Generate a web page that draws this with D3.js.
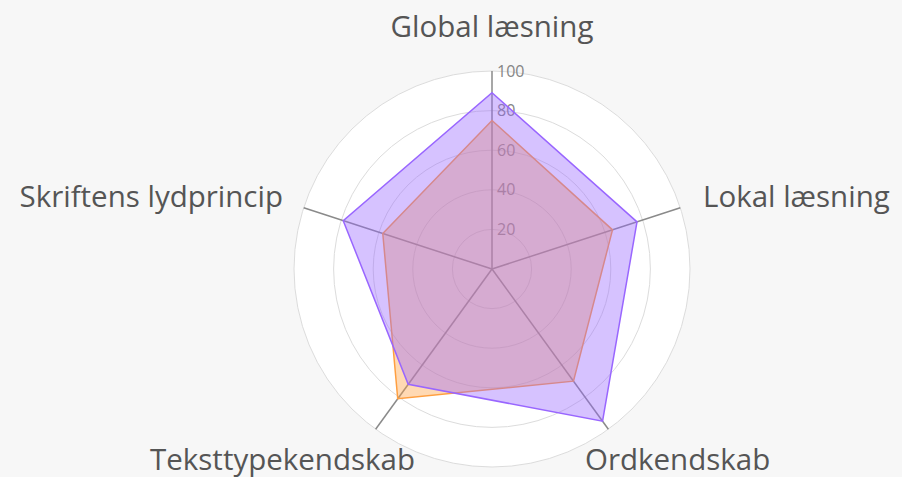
<!DOCTYPE html>
<html>
<head>
<meta charset="utf-8">
<script src="https://cdn.jsdelivr.net/npm/d3@7"></script>
<style>
  body { margin: 0; background: #f7f7f7; }
  text { font-family: "Open Sans", sans-serif; }
</style>
</head>
<body>
<script>
var width = 902;
var height = 477;

// data
var axes = ["Global læsning", "Lokal læsning", "Ordkendskab", "Teksttypekendskab", "Skriftens lydprincip"];
var seriesOrange = [75, 64, 70, 81, 58];
var seriesPurple = [89, 77, 95, 72, 79];
var ticks = [20, 40, 60, 80, 100];

var cx = 492, cy = 269, R = 198;

var svg = d3.select("body").append("svg")
  .attr("width", width)
  .attr("height", height);

var r = d3.scaleLinear().domain([0, 100]).range([0, R]);
var angle = d3.scaleLinear().domain([0, axes.length]).range([0, 2 * Math.PI]);

var g = svg.append("g").attr("transform", "translate(" + cx + "," + cy + ")");

// white plot disc
g.append("circle").attr("r", R).attr("fill", "#fff");

// rings
g.selectAll(".ring")
  .data(ticks)
  .enter().append("circle")
  .attr("class", "ring")
  .attr("r", function (d) { return r(d); })
  .attr("fill", "none")
  .attr("stroke", "#dcdcdc")
  .attr("stroke-width", 1);

// spokes
g.selectAll(".spoke")
  .data(axes)
  .enter().append("line")
  .attr("class", "spoke")
  .attr("x1", 0).attr("y1", 0)
  .attr("x2", function (d, i) { return Math.sin(angle(i)) * R; })
  .attr("y2", function (d, i) { return -Math.cos(angle(i)) * R; })
  .attr("stroke", "#8a8a8a")
  .attr("stroke-width", 1.5);

// tick labels
g.selectAll(".tick")
  .data(ticks)
  .enter().append("text")
  .attr("class", "tick")
  .attr("x", 5)
  .attr("y", function (d) { return -r(d); })
  .attr("dy", "0.35em")
  .attr("fill", "#858585")
  .style("font-size", "16px")
  .text(function (d) { return d; });

var line = d3.lineRadial()
  .angle(function (d, i) { return angle(i); })
  .radius(function (d) { return r(d); })
  .curve(d3.curveLinearClosed);

// orange under, purple on top
g.append("path")
  .attr("d", line(seriesOrange))
  .attr("fill", "rgba(255,159,64,0.4)")
  .attr("stroke", "rgb(255,159,64)")
  .attr("stroke-width", 1.5);

g.append("path")
  .attr("d", line(seriesPurple))
  .attr("fill", "rgba(153,102,255,0.4)")
  .attr("stroke", "rgb(153,102,255)")
  .attr("stroke-width", 1.5);

// axis labels
var labelPos = [
  { x: 0, y: -232, anchor: "middle" },
  { x: 211, y: -62, anchor: "start" },
  { x: 93, y: 201, anchor: "start" },
  { x: -77, y: 201, anchor: "end" },
  { x: -209, y: -62, anchor: "end" }
];

g.selectAll(".label")
  .data(axes)
  .enter().append("text")
  .attr("class", "label")
  .attr("x", function (d, i) { return labelPos[i].x; })
  .attr("y", function (d, i) { return labelPos[i].y; })
  .attr("text-anchor", function (d, i) { return labelPos[i].anchor; })
  .attr("fill", "#555")
  .style("font-size", "29.5px")
  .text(function (d) { return d; });
</script>
</body>
</html>
